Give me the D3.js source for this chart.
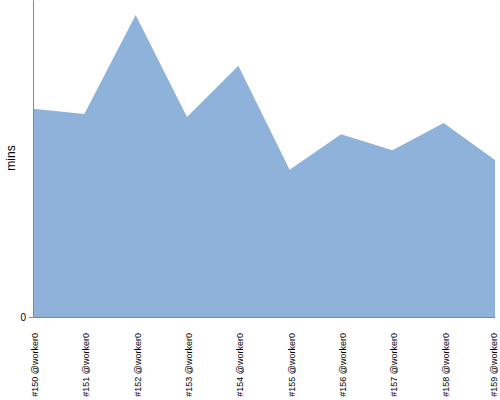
<!DOCTYPE html>
<html>
<head>
<meta charset="utf-8">
<script src="https://cdn.jsdelivr.net/npm/d3@7"></script>
<style>
body{margin:0;background:#fff;}
svg{display:block;font-family:"Liberation Sans",Arial,sans-serif;}
</style>
</head>
<body>
<svg id="chart" width="500" height="400"></svg>
<script>
const categories = ["#150 @worker0","#151 @worker0","#152 @worker0","#153 @worker0","#154 @worker0","#155 @worker0","#156 @worker0","#157 @worker0","#158 @worker0","#159 @worker0"];
const minsValues = [13.8, 13.45, 20.0, 13.25, 16.65, 9.75, 12.1, 11.05, 12.85, 10.4];
const yTicks = [0];

(function(){
const svg = d3.select("#chart");
const mLeft = 33, mRight = 495, mTop = 0, mBottom = 317;

const x = d3.scalePoint().domain(categories).range([mLeft, mRight]);
const y = d3.scaleLinear().domain([0, 21]).range([mBottom, mTop]);

const data = categories.map((c, i) => ({c, v: minsValues[i]}));

svg.append("path")
  .datum(data)
  .attr("fill", "#8fb2da")
  .attr("d", d3.area().x(d => x(d.c)).y0(y(0)).y1(d => y(d.v)));

// y axis
const yAxis = svg.append("g").attr("transform", `translate(${mLeft},0)`)
  .call(d3.axisLeft(y).tickValues(yTicks).tickSize(4).tickSizeOuter(0));
yAxis.select(".domain").attr("stroke", "#888");
yAxis.selectAll(".tick line").attr("stroke", "#888");
yAxis.selectAll(".tick text").attr("font-size", 10).attr("fill", "#000").attr("font-family", "Liberation Sans, Arial, sans-serif");

// x axis line
const xAxis = svg.append("g").attr("transform", `translate(0,${mBottom})`)
  .call(d3.axisBottom(x).tickSize(0).tickFormat(""));
xAxis.select(".domain").attr("stroke", "#888").attr("d", `M${mLeft},0.5H${mRight}`);

// x labels
svg.append("g").selectAll("text")
  .data(categories)
  .join("text")
  .attr("transform", d => `translate(${Math.min(x(d) + 2, 494)},333) rotate(-90)`)
  .attr("text-anchor", "end")
  .attr("dy", "0.35em")
  .attr("font-size", 9)
  .attr("fill", "#000")
  .text(d => d);

// y label
svg.append("text")
  .attr("transform", "translate(11,158) rotate(-90)")
  .attr("text-anchor", "middle")
  .attr("dy", "0.35em")
  .attr("font-size", 12)
  .attr("fill", "#000")
  .text("mins");
})();
</script>
</body>
</html>
